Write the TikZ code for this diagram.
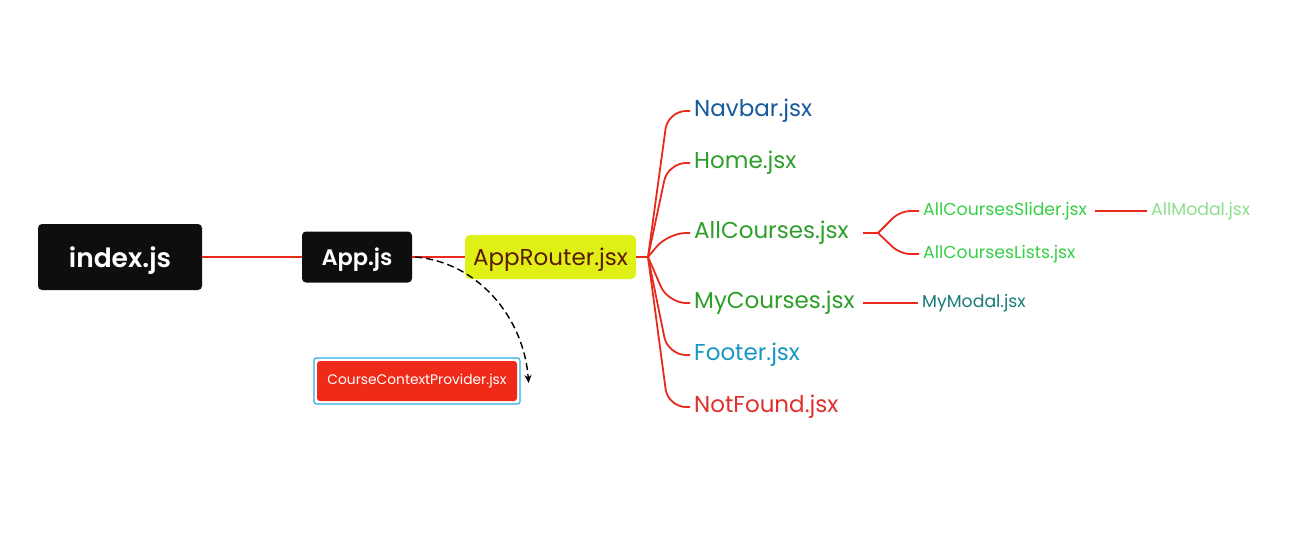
\documentclass[tikz,border=0pt]{standalone}
\usepackage{fontspec}
\setmainfont{Poppins}[BoldFont={Poppins SemiBold}]
\usetikzlibrary{arrows.meta}
\definecolor{boxblack}{HTML}{0E0E0E}
\definecolor{linkred}{HTML}{E8291C}
\definecolor{routerfill}{HTML}{DFF016}
\definecolor{routertext}{HTML}{5C1A04}
\definecolor{navblue}{HTML}{155A9C}
\definecolor{leafgreen}{HTML}{2E9E2A}
\definecolor{footblue}{HTML}{1797C4}
\definecolor{nfred}{HTML}{E0302C}
\definecolor{subgreen}{HTML}{38CF48}
\definecolor{palegreen}{HTML}{8EDE8E}
\definecolor{teal}{HTML}{1A7A7A}
\definecolor{ctxred}{HTML}{F02A18}
\definecolor{ctxborder}{HTML}{29AEE6}
\tikzset{
  darkbox/.style={fill=boxblack, text=white, rounded corners=4pt, font=\bfseries, inner sep=0pt, text depth=0pt},
  link/.style={draw=linkred, line width=1.8pt},
  leaf/.style={anchor=west, inner xsep=4pt, inner ysep=0pt, font=\fontsize{23}{26}\selectfont},
  subleaf/.style={anchor=west, inner xsep=4pt, inner ysep=0pt, font=\fontsize{17.3}{20}\selectfont},
  branch/.style={link, rounded corners=18pt},
  subbranch/.style={link, rounded corners=10pt}
}
\begin{document}
\begin{tikzpicture}[x=1pt,y=-1pt]
\useasboundingbox (0,0) rectangle (1315,554);

% root and first level
\node[darkbox, minimum width=164pt, minimum height=66pt, font=\fontsize{26.5}{30}\selectfont\bfseries] (index) at (120,257) {index.js};
\node[darkbox, minimum width=110pt, minimum height=51pt, font=\fontsize{22.5}{25}\selectfont\bfseries] (app) at (357,257) {App.js};
\node[fill=routerfill, text=routertext, rounded corners=5pt, minimum width=171pt, minimum height=44pt, inner sep=0pt, text depth=0pt, font=\fontsize{23}{26}\selectfont] (router) at (550.5,257) {AppRouter.jsx};

% context provider
\node[draw=ctxborder, line width=1.2pt, rounded corners=2.5pt, minimum width=206pt, minimum height=46pt, inner sep=0pt] (ctxframe) at (417,381) {};
\node[fill=ctxred, text=white, rounded corners=3pt, minimum width=200pt, minimum height=40pt, inner sep=0pt, font=\fontsize{13.8}{16}\selectfont] (ctx) at (417,381) {CourseContextProvider.jsx};

\draw[link] (index.east) -- (app.west);
\draw[link] (app.east) -- (router.west);

% hub of the router's children
\coordinate (hub) at (648,257);
\draw[link] (router.east) -- (hub);

\node[leaf, text=navblue] (navbar) at (690,111) {Navbar.jsx};
\node[leaf, text=leafgreen] (home) at (690,163) {Home.jsx};
\node[leaf, text=leafgreen] (allc) at (690,233) {AllCourses.jsx};
\node[leaf, text=leafgreen] (myc) at (690,303) {MyCourses.jsx};
\node[leaf, text=footblue] (footer) at (690,355) {Footer.jsx};
\node[leaf, text=nfred] (notfound) at (690,407) {NotFound.jsx};

\foreach \n in {navbar,home,allc,myc,footer,notfound}{
  \draw[branch] (hub) -- (\n.west -| 668,0) -- (\n.west);
}

% second level under AllCourses
\node[subleaf, text=subgreen] (slider) at (919,211) {AllCoursesSlider.jsx};
\node[subleaf, text=subgreen] (lists) at (919,254) {AllCoursesLists.jsx};
\coordinate (subhub) at (878,233);
\draw[link] (allc.east) ++(10,0) -- (subhub);
\draw[subbranch] (subhub) -- (900,211) -- (slider.west);
\draw[subbranch] (subhub) -- (900,254) -- (lists.west);

\node[subleaf, text=palegreen] (allmodal) at (1147,211) {AllModal.jsx};
\draw[link] (slider.east) ++(4,0) -- (allmodal.west);

% second level under MyCourses
\node[subleaf, text=teal] (mymodal) at (918,303) {MyModal.jsx};
\draw[link] (myc.east) ++(4,0) -- (mymodal.west);

% dashed link from App.js to the context provider
\coordinate (ctxend) at ([xshift=8pt,yshift=-2pt]ctxframe.east);
\draw[line width=1.4pt, dash pattern=on 7pt off 4pt, -{Stealth[length=8pt,width=7pt]}]
  ([xshift=3pt]app.east) .. controls (478,262) and (524,318) .. (ctxend);
\end{tikzpicture}
\end{document}
